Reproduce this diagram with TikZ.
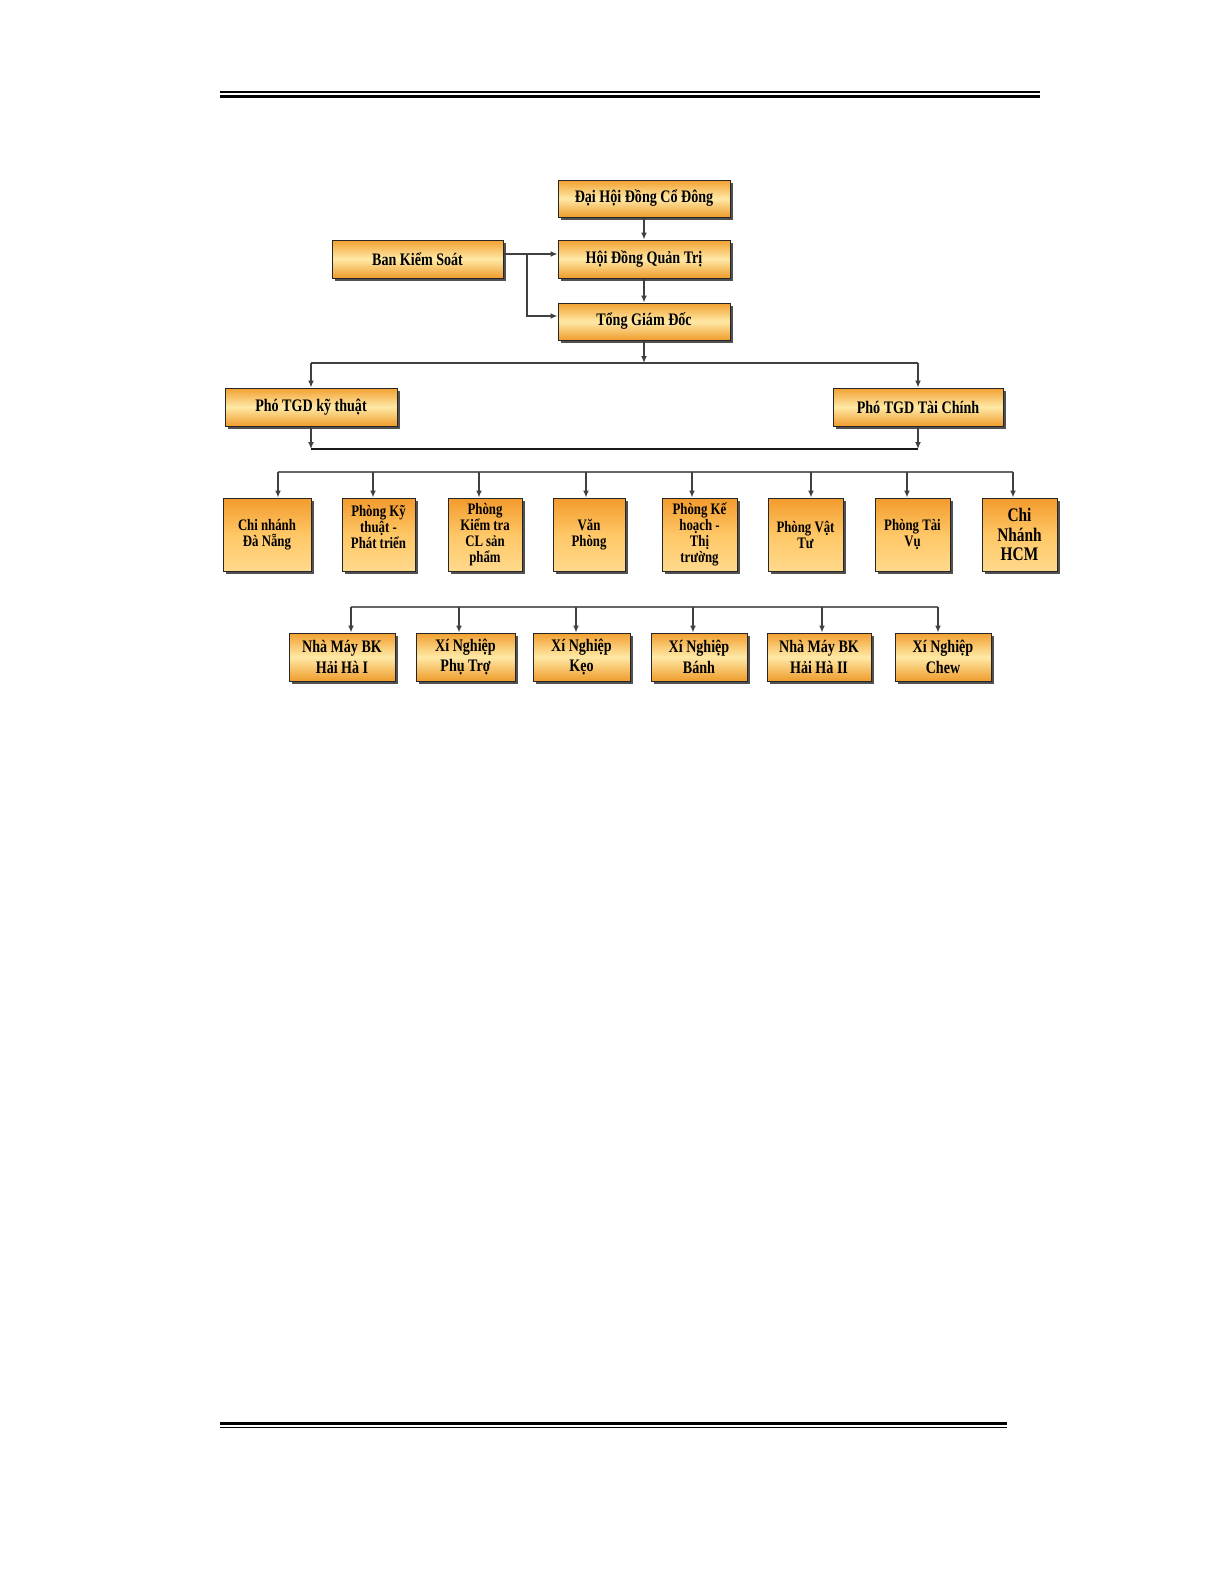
\documentclass[tikz,border=0pt]{standalone}
\usepackage{fontspec}
\setmainfont{Liberation Serif}
\newfontfamily\boxfont{Liberation Serif}[FakeStretch=0.8]
\usetikzlibrary{arrows.meta,shadows}
\definecolor{wtop}{HTML}{F2A030}
\definecolor{wmid}{HTML}{FFE9A6}
\definecolor{wbot}{HTML}{EF9C2C}
\definecolor{ttop}{HTML}{F29A2C}
\definecolor{tmid}{HTML}{FFC766}
\definecolor{tbot}{HTML}{FFD98C}
\begin{document}
\begin{tikzpicture}[x=0.5pt,y=-0.5pt,
  box/.style={draw=black!85, line width=0.5pt, inner sep=0pt, align=center,
    text=black, font=\boxfont\bfseries\fontsize{8.8}{9.4}\selectfont,
    drop shadow={shadow xshift=1.4pt, shadow yshift=-1.4pt, opacity=0.85, fill=black!80}},
  wbox/.style={box, top color=wtop, bottom color=wbot, middle color=wmid},
  tbox/.style={box, top color=ttop, bottom color=tbot, middle color=tmid,
    minimum height=36.5pt, font=\boxfont\bfseries\fontsize{8}{8}\selectfont},
  bbox/.style={wbox, minimum height=24pt, font=\boxfont\bfseries\fontsize{8.8}{10.2}\selectfont},
  conn/.style={line width=0.7pt, draw=black!75},
  arr/.style={conn, -{Latex[length=3.5pt,width=3pt]}},
  rulethick/.style={line width=1.5pt, draw=black},
  rulethin/.style={line width=0.9pt, draw=black}
]
\useasboundingbox (0,0) rectangle (1225,1585);

% page rules
\draw[rulethin] (220,92) -- (1040,92);
\draw[rulethick] (220,96) -- (1040,96);
\draw[rulethick] (220,1423.5) -- (1007,1423.5);
\draw[line width=0.75pt] (220,1427.5) -- (1007,1427.5);

% top boxes
\node[wbox, minimum width=86pt, minimum height=18.5pt] (dh) at (644,198.5) {Đại Hội Đồng Cổ Đông};
\node[wbox, minimum width=86pt, minimum height=19pt] (hd) at (644,259) {Hội Đồng Quản Trị};
\node[wbox, minimum width=86pt, minimum height=18.5pt] (tg) at (644,321.5) {Tổng Giám Đốc};
\node[wbox, minimum width=85.5pt, minimum height=19pt] (bks) at (417.5,259) {Ban Kiểm Soát};

\node[wbox, minimum width=86pt, minimum height=19pt] (kt) at (311,407) {Phó TGD kỹ thuật};
\node[wbox, minimum width=85pt, minimum height=19pt] (tc) at (918,407) {Phó TGD Tài Chính};

% row 3
\node[tbox, minimum width=44pt] (b1) at (267,534.5) {Chi nhánh\\Đà Nẵng};
\node[tbox, minimum width=36.5pt] (b2) at (378.5,534.5) {Phòng Kỹ\\thuật -\\Phát triển\\\mbox{}};
\node[tbox, minimum width=37pt] (b3) at (485,534.5) {Phòng\\Kiểm tra\\CL sản\\phẩm};
\node[tbox, minimum width=36pt] (b4) at (589,534.5) {Văn\\Phòng};
\node[tbox, minimum width=37.5pt] (b5) at (699.5,534.5) {Phòng Kế\\hoạch -\\Thị\\trường};
\node[tbox, minimum width=37.5pt] (b6) at (805.5,534.5) {Phòng Vật\\Tư};
\node[tbox, minimum width=37.5pt] (b7) at (912.5,534.5) {Phòng Tài\\Vụ};
\node[tbox, minimum width=37.5pt, font=\boxfont\bfseries\fontsize{9.6}{9.8}\selectfont] (b8) at (1019.5,534.5) {Chi\\Nhánh\\HCM};

% bottom row
\node[bbox, minimum width=53pt] (c1) at (342,657) {Nhà Máy BK\\Hải Hà I};
\node[bbox, minimum width=49.5pt] (c2) at (465.5,657) {Xí Nghiệp\\Phụ Trợ};
\node[bbox, minimum width=48.5pt] (c3) at (581.5,657) {Xí Nghiệp\\Kẹo};
\node[bbox, minimum width=48pt] (c4) at (699,657) {Xí Nghiệp\\Bánh};
\node[bbox, minimum width=52pt] (c5) at (819,657) {Nhà Máy BK\\Hải Hà II};
\node[bbox, minimum width=48pt] (c6) at (943,657) {Xí Nghiệp\\Chew};

% top connectors
\draw[arr] (dh.south) -- (hd.north);
\draw[arr] (hd.south) -- (tg.north);
\coordinate (bk) at (527,254);
\coordinate (bk2) at (527,316);
\draw[conn] (bks.east |- bk) -- (bk);
\draw[arr] (bk) -- (hd.west |- bk);
\draw[arr] (bk) -- (bk2) -- (tg.west |- bk2);

% to deputies
\coordinate (j1) at (644,363);
\coordinate (l1) at (311,363);
\coordinate (r1) at (918,363);
\draw[arr] (tg.south) -- (j1);
\draw[conn] (l1) -- (r1);
\draw[arr] (l1) -- (kt.north);
\draw[arr] (r1) -- (tc.north);

\coordinate (l2) at (311,449);
\coordinate (r2) at (918,449);
\draw[conn, draw=black!90] (l2) -- (r2);
\draw[arr] (kt.south) -- (l2);
\draw[arr] (tc.south) -- (r2);

% row 3 bus
\coordinate (t1) at (278,472);
\coordinate (t2) at (373,472);
\coordinate (t3) at (479,472);
\coordinate (t4) at (586,472);
\coordinate (t5) at (692,472);
\coordinate (t6) at (811,472);
\coordinate (t7) at (907,472);
\coordinate (t8) at (1013,472);
\draw[conn, draw=black!60] (t1) -- (t8);
\foreach \i in {1,...,8} \draw[arr] (t\i) -- (t\i |- b\i.north);

% bottom bus
\coordinate (s1) at (351,607);
\coordinate (s2) at (459,607);
\coordinate (s3) at (576,607);
\coordinate (s4) at (693,607);
\coordinate (s5) at (822,607);
\coordinate (s6) at (938,607);
\draw[conn, draw=black!60] (s1) -- (s6);
\foreach \i in {1,...,6} \draw[arr] (s\i) -- (s\i |- c\i.north);
\end{tikzpicture}
\end{document}
